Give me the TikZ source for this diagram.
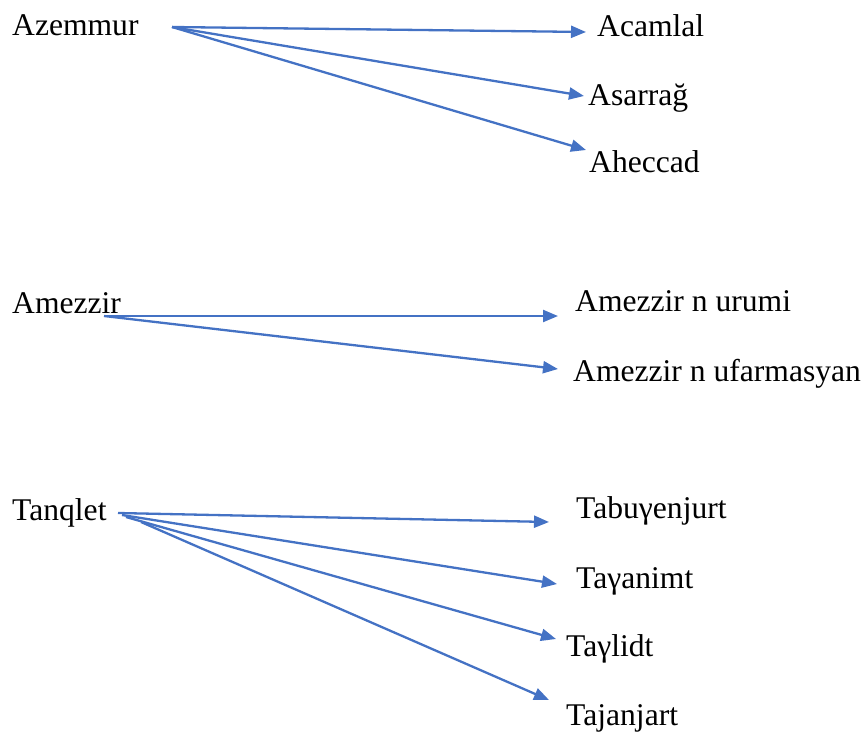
\documentclass[tikz,border=0pt]{standalone}
\usepackage{fontspec}
\setmainfont{Liberation Serif}
\usetikzlibrary{arrows.meta}
\definecolor{linkblue}{RGB}{68,114,196}
\tikzset{
	word/.style={anchor=base west,inner sep=0pt,font=\fontsize{31.6}{36}\selectfont},
	link/.style={draw=linkblue,line width=2.3pt,-{Triangle[length=15pt,width=12pt]}}
}
\begin{document}
\begin{tikzpicture}[x=1pt,y=-1pt]
\useasboundingbox (0,0) rectangle (866,731);
% Azemmur
\node[word] (azemmur) at (12,35) {Azemmur};
\node[word] (acamlal) at (597,36) {Acamlal};
\node[word] (asarrag) at (588,105) {Asarrağ};
\node[word] (aheccad) at (589,172) {Aheccad};
\coordinate (azemmur-out) at (172,27);
\coordinate (acamlal-in) at (586,32);
\coordinate (asarrag-in) at (584,96);
\coordinate (aheccad-in) at (586,150);
\foreach \t in {acamlal,asarrag,aheccad}
	\draw[link] (azemmur-out) -- (\t-in);
% Amezzir
\node[word] (amezzir) at (12,313) {Amezzir};
\node[word] (urumi) at (575,311) {Amezzir n urumi};
\node[word] (ufarmasyan) at (573,381) {Amezzir n ufarmasyan};
\coordinate (amezzir-out) at (104,316);
\coordinate (urumi-in) at (558,316);
\coordinate (ufarmasyan-in) at (558,369);
\foreach \t in {urumi,ufarmasyan}
	\draw[link] (amezzir-out) -- (\t-in);
% Tanqlet
\node[word] (tanqlet) at (12,520) {Tanqlet};
\node[word] (tabuyenjurt) at (576,518) {Tabuγenjurt};
\node[word] (tayanimt) at (576,588) {Taγanimt};
\node[word] (taylidt) at (566,656) {Taγlidt};
\node[word] (tajanjart) at (566,725) {Tajanjart};
\coordinate (tanqlet-out1) at (118,513);
\coordinate (tanqlet-out2) at (122,515);
\coordinate (tanqlet-out3) at (126,517);
\coordinate (tanqlet-out4) at (141,522);
\coordinate (tabuyenjurt-in) at (549,522);
\coordinate (tayanimt-in) at (557,584);
\coordinate (taylidt-in) at (556,639);
\coordinate (tajanjart-in) at (549,700);
\draw[link] (tanqlet-out1) -- (tabuyenjurt-in);
\draw[link] (tanqlet-out2) -- (tayanimt-in);
\draw[link] (tanqlet-out3) -- (taylidt-in);
\draw[link] (tanqlet-out4) -- (tajanjart-in);
\end{tikzpicture}
\end{document}
